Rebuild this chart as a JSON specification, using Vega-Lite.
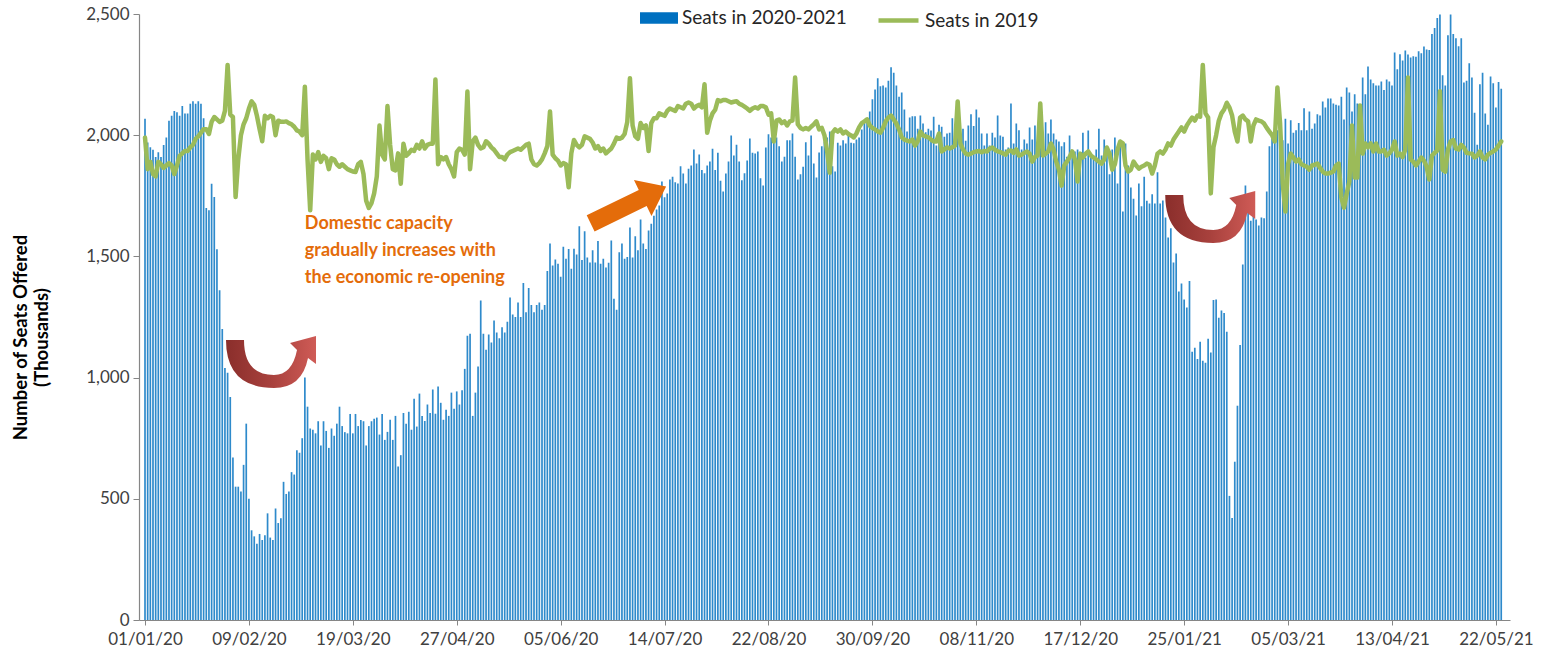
{
"$schema": "https://vega.github.io/schema/vega-lite/v6.json",
"width": 1371,
"height": 606,
"autosize": "none",
"padding": {"left": 139, "top": 14, "right": 37, "bottom": 37},
"background": "white",
"config": {"view": {"stroke": null}, "font": "Lato",
  "axis": {"grid": false, "domainColor": "#868686", "tickColor": "#868686", "labelColor": "#404040", "labelFont": "Lato", "labelFontSize": 17, "tickSize": 6, "domainWidth": 1.2, "titleFont": "Lato", "titleFontSize": 18.5, "titleFontWeight": "bold", "titleColor": "#000000", "titleLineHeight": 21},
  "axisY": {"titleX": -109, "titleY": 323, "labelPadding": 4}},
"datasets": {
"seats": [
{"date":"2020-01-01","s2021":2068,"s2019":1990},{"date":"2020-01-02","s2021":1970,"s2019":1860},{"date":"2020-01-03","s2021":1950,"s2019":1890},{"date":"2020-01-04","s2021":1940,"s2019":1840},{"date":"2020-01-05","s2021":1910,"s2019":1830},{"date":"2020-01-06","s2021":1930,"s2019":1890},{"date":"2020-01-07","s2021":1910,"s2019":1880},{"date":"2020-01-08","s2021":1960,"s2019":1865},{"date":"2020-01-09","s2021":1990,"s2019":1875},{"date":"2020-01-10","s2021":2060,"s2019":1885},{"date":"2020-01-11","s2021":2080,"s2019":1875},{"date":"2020-01-12","s2021":2100,"s2019":1840},{"date":"2020-01-13","s2021":2095,"s2019":1875},{"date":"2020-01-14","s2021":2080,"s2019":1915},{"date":"2020-01-15","s2021":2120,"s2019":1925},{"date":"2020-01-16","s2021":2090,"s2019":1935},{"date":"2020-01-17","s2021":2090,"s2019":1935},{"date":"2020-01-18","s2021":2130,"s2019":1950},{"date":"2020-01-19","s2021":2140,"s2019":1960},{"date":"2020-01-20","s2021":2130,"s2019":1985},{"date":"2020-01-21","s2021":2140,"s2019":1995},{"date":"2020-01-22","s2021":2130,"s2019":2010},{"date":"2020-01-23","s2021":2070,"s2019":2025},{"date":"2020-01-24","s2021":1700,"s2019":2025},{"date":"2020-01-25","s2021":1690,"s2019":2005},{"date":"2020-01-26","s2021":1800,"s2019":2055},{"date":"2020-01-27","s2021":1745,"s2019":2075},{"date":"2020-01-28","s2021":1530,"s2019":2065},{"date":"2020-01-29","s2021":1360,"s2019":2055},{"date":"2020-01-30","s2021":1200,"s2019":2060},{"date":"2020-01-31","s2021":1040,"s2019":2100},
{"date":"2020-02-01","s2021":1020,"s2019":2290},{"date":"2020-02-02","s2021":920,"s2019":2085},{"date":"2020-02-03","s2021":670,"s2019":2075},{"date":"2020-02-04","s2021":550,"s2019":1745},{"date":"2020-02-05","s2021":550,"s2019":1900},{"date":"2020-02-06","s2021":530,"s2019":2000},{"date":"2020-02-07","s2021":640,"s2019":2045},{"date":"2020-02-08","s2021":810,"s2019":2070},{"date":"2020-02-09","s2021":500,"s2019":2110},{"date":"2020-02-10","s2021":370,"s2019":2140},{"date":"2020-02-11","s2021":345,"s2019":2125},{"date":"2020-02-12","s2021":315,"s2019":2080},{"date":"2020-02-13","s2021":355,"s2019":2025},{"date":"2020-02-14","s2021":330,"s2019":1975},{"date":"2020-02-15","s2021":350,"s2019":2080},{"date":"2020-02-16","s2021":440,"s2019":2070},{"date":"2020-02-17","s2021":340,"s2019":2080},{"date":"2020-02-18","s2021":330,"s2019":2075},{"date":"2020-02-19","s2021":460,"s2019":2000},{"date":"2020-02-20","s2021":400,"s2019":2060},{"date":"2020-02-21","s2021":420,"s2019":2055},{"date":"2020-02-22","s2021":570,"s2019":2055},{"date":"2020-02-23","s2021":520,"s2019":2057},{"date":"2020-02-24","s2021":530,"s2019":2050},{"date":"2020-02-25","s2021":610,"s2019":2045},{"date":"2020-02-26","s2021":600,"s2019":2035},{"date":"2020-02-27","s2021":700,"s2019":2020},{"date":"2020-02-28","s2021":690,"s2019":2015},{"date":"2020-02-29","s2021":750,"s2019":2000},
{"date":"2020-03-01","s2021":1000,"s2019":2200},{"date":"2020-03-02","s2021":880,"s2019":1900},{"date":"2020-03-03","s2021":790,"s2019":1690},{"date":"2020-03-04","s2021":785,"s2019":1920},{"date":"2020-03-05","s2021":770,"s2019":1900},{"date":"2020-03-06","s2021":820,"s2019":1930},{"date":"2020-03-07","s2021":720,"s2019":1890},{"date":"2020-03-08","s2021":820,"s2019":1915},{"date":"2020-03-09","s2021":780,"s2019":1905},{"date":"2020-03-10","s2021":710,"s2019":1860},{"date":"2020-03-11","s2021":790,"s2019":1905},{"date":"2020-03-12","s2021":760,"s2019":1900},{"date":"2020-03-13","s2021":810,"s2019":1880},{"date":"2020-03-14","s2021":880,"s2019":1870},{"date":"2020-03-15","s2021":800,"s2019":1880},{"date":"2020-03-16","s2021":775,"s2019":1870},{"date":"2020-03-17","s2021":770,"s2019":1860},{"date":"2020-03-18","s2021":850,"s2019":1855},{"date":"2020-03-19","s2021":770,"s2019":1850},{"date":"2020-03-20","s2021":850,"s2019":1848},{"date":"2020-03-21","s2021":800,"s2019":1880},{"date":"2020-03-22","s2021":825,"s2019":1890},{"date":"2020-03-23","s2021":820,"s2019":1840},{"date":"2020-03-24","s2021":720,"s2019":1730},{"date":"2020-03-25","s2021":800,"s2019":1700},{"date":"2020-03-26","s2021":820,"s2019":1720},{"date":"2020-03-27","s2021":830,"s2019":1760},{"date":"2020-03-28","s2021":835,"s2019":1830},{"date":"2020-03-29","s2021":765,"s2019":2040},{"date":"2020-03-30","s2021":850,"s2019":1920},{"date":"2020-03-31","s2021":743,"s2019":1900},
{"date":"2020-04-01","s2021":776,"s2019":2120},{"date":"2020-04-02","s2021":826,"s2019":1960},{"date":"2020-04-03","s2021":743,"s2019":1860},{"date":"2020-04-04","s2021":842,"s2019":1855},{"date":"2020-04-05","s2021":633,"s2019":1925},{"date":"2020-04-06","s2021":680,"s2019":1800},{"date":"2020-04-07","s2021":854,"s2019":1965},{"date":"2020-04-08","s2021":810,"s2019":1915},{"date":"2020-04-09","s2021":859,"s2019":1925},{"date":"2020-04-10","s2021":785,"s2019":1940},{"date":"2020-04-11","s2021":913,"s2019":1935},{"date":"2020-04-12","s2021":798,"s2019":1960},{"date":"2020-04-13","s2021":934,"s2019":1945},{"date":"2020-04-14","s2021":842,"s2019":1975},{"date":"2020-04-15","s2021":821,"s2019":1945},{"date":"2020-04-16","s2021":889,"s2019":1960},{"date":"2020-04-17","s2021":854,"s2019":1965},{"date":"2020-04-18","s2021":951,"s2019":1965},{"date":"2020-04-19","s2021":851,"s2019":2230},{"date":"2020-04-20","s2021":963,"s2019":1880},{"date":"2020-04-21","s2021":896,"s2019":1910},{"date":"2020-04-22","s2021":826,"s2019":1900},{"date":"2020-04-23","s2021":867,"s2019":1910},{"date":"2020-04-24","s2021":842,"s2019":1880},{"date":"2020-04-25","s2021":938,"s2019":1860},{"date":"2020-04-26","s2021":872,"s2019":1830},{"date":"2020-04-27","s2021":943,"s2019":1930},{"date":"2020-04-28","s2021":889,"s2019":1945},{"date":"2020-04-29","s2021":948,"s2019":1940},{"date":"2020-04-30","s2021":1036,"s2019":1920},
{"date":"2020-05-01","s2021":1173,"s2019":2180},{"date":"2020-05-02","s2021":1181,"s2019":1860},{"date":"2020-05-03","s2021":842,"s2019":1975},{"date":"2020-05-04","s2021":938,"s2019":1990},{"date":"2020-05-05","s2021":1046,"s2019":1960},{"date":"2020-05-06","s2021":1318,"s2019":1945},{"date":"2020-05-07","s2021":1181,"s2019":1950},{"date":"2020-05-08","s2021":1115,"s2019":1975},{"date":"2020-05-09","s2021":1178,"s2019":1965},{"date":"2020-05-10","s2021":1145,"s2019":1950},{"date":"2020-05-11","s2021":1236,"s2019":1940},{"date":"2020-05-12","s2021":1186,"s2019":1925},{"date":"2020-05-13","s2021":1162,"s2019":1910},{"date":"2020-05-14","s2021":1208,"s2019":1910},{"date":"2020-05-15","s2021":1186,"s2019":1900},{"date":"2020-05-16","s2021":1230,"s2019":1920},{"date":"2020-05-17","s2021":1330,"s2019":1930},{"date":"2020-05-18","s2021":1260,"s2019":1935},{"date":"2020-05-19","s2021":1250,"s2019":1940},{"date":"2020-05-20","s2021":1310,"s2019":1945},{"date":"2020-05-21","s2021":1250,"s2019":1940},{"date":"2020-05-22","s2021":1390,"s2019":1950},{"date":"2020-05-23","s2021":1270,"s2019":1960},{"date":"2020-05-24","s2021":1370,"s2019":1965},{"date":"2020-05-25","s2021":1300,"s2019":1900},{"date":"2020-05-26","s2021":1270,"s2019":1880},{"date":"2020-05-27","s2021":1300,"s2019":1875},{"date":"2020-05-28","s2021":1310,"s2019":1885},{"date":"2020-05-29","s2021":1280,"s2019":1900},{"date":"2020-05-30","s2021":1300,"s2019":1925},{"date":"2020-05-31","s2021":1440,"s2019":1955},
{"date":"2020-06-01","s2021":1553,"s2019":2098},{"date":"2020-06-02","s2021":1462,"s2019":1920},{"date":"2020-06-03","s2021":1487,"s2019":1905},{"date":"2020-06-04","s2021":1470,"s2019":1895},{"date":"2020-06-05","s2021":1416,"s2019":1875},{"date":"2020-06-06","s2021":1540,"s2019":1885},{"date":"2020-06-07","s2021":1490,"s2019":1880},{"date":"2020-06-08","s2021":1531,"s2019":1785},{"date":"2020-06-09","s2021":1449,"s2019":1925},{"date":"2020-06-10","s2021":1532,"s2019":1980},{"date":"2020-06-11","s2021":1508,"s2019":1960},{"date":"2020-06-12","s2021":1624,"s2019":1950},{"date":"2020-06-13","s2021":1485,"s2019":1960},{"date":"2020-06-14","s2021":1604,"s2019":1995},{"date":"2020-06-15","s2021":1495,"s2019":1990},{"date":"2020-06-16","s2021":1475,"s2019":1985},{"date":"2020-06-17","s2021":1525,"s2019":1970},{"date":"2020-06-18","s2021":1475,"s2019":1945},{"date":"2020-06-19","s2021":1564,"s2019":1955},{"date":"2020-06-20","s2021":1470,"s2019":1935},{"date":"2020-06-21","s2021":1490,"s2019":1945},{"date":"2020-06-22","s2021":1454,"s2019":1925},{"date":"2020-06-23","s2021":1474,"s2019":1935},{"date":"2020-06-24","s2021":1566,"s2019":1945},{"date":"2020-06-25","s2021":1325,"s2019":1965},{"date":"2020-06-26","s2021":1280,"s2019":1990},{"date":"2020-06-27","s2021":1517,"s2019":1985},{"date":"2020-06-28","s2021":1553,"s2019":1990},{"date":"2020-06-29","s2021":1490,"s2019":2005},{"date":"2020-06-30","s2021":1498,"s2019":2055},
{"date":"2020-07-01","s2021":1619,"s2019":2235},{"date":"2020-07-02","s2021":1495,"s2019":2040},{"date":"2020-07-03","s2021":1583,"s2019":1995},{"date":"2020-07-04","s2021":1525,"s2019":1985},{"date":"2020-07-05","s2021":1652,"s2019":2050},{"date":"2020-07-06","s2021":1553,"s2019":2030},{"date":"2020-07-07","s2021":1531,"s2019":2040},{"date":"2020-07-08","s2021":1607,"s2019":1935},{"date":"2020-07-09","s2021":1635,"s2019":2050},{"date":"2020-07-10","s2021":1668,"s2019":2070},{"date":"2020-07-11","s2021":1693,"s2019":2070},{"date":"2020-07-12","s2021":1710,"s2019":2090},{"date":"2020-07-13","s2021":1809,"s2019":2085},{"date":"2020-07-14","s2021":1744,"s2019":2080},{"date":"2020-07-15","s2021":1759,"s2019":2100},{"date":"2020-07-16","s2021":1817,"s2019":2110},{"date":"2020-07-17","s2021":1829,"s2019":2105},{"date":"2020-07-18","s2021":1806,"s2019":2100},{"date":"2020-07-19","s2021":1801,"s2019":2120},{"date":"2020-07-20","s2021":1872,"s2019":2115},{"date":"2020-07-21","s2021":1842,"s2019":2110},{"date":"2020-07-22","s2021":1801,"s2019":2130},{"date":"2020-07-23","s2021":1862,"s2019":2135},{"date":"2020-07-24","s2021":1875,"s2019":2130},{"date":"2020-07-25","s2021":1941,"s2019":2110},{"date":"2020-07-26","s2021":1883,"s2019":2120},{"date":"2020-07-27","s2021":1920,"s2019":2125},{"date":"2020-07-28","s2021":1856,"s2019":2115},{"date":"2020-07-29","s2021":1843,"s2019":2210},{"date":"2020-07-30","s2021":1875,"s2019":2010},{"date":"2020-07-31","s2021":1892,"s2019":2060},
{"date":"2020-08-01","s2021":1944,"s2019":2090},{"date":"2020-08-02","s2021":1856,"s2019":2105},{"date":"2020-08-03","s2021":1928,"s2019":2145},{"date":"2020-08-04","s2021":1812,"s2019":2140},{"date":"2020-08-05","s2021":1768,"s2019":2145},{"date":"2020-08-06","s2021":1842,"s2019":2145},{"date":"2020-08-07","s2021":1892,"s2019":2140},{"date":"2020-08-08","s2021":1999,"s2019":2135},{"date":"2020-08-09","s2021":1916,"s2019":2138},{"date":"2020-08-10","s2021":1961,"s2019":2140},{"date":"2020-08-11","s2021":1892,"s2019":2130},{"date":"2020-08-12","s2021":1814,"s2019":2125},{"date":"2020-08-13","s2021":1843,"s2019":2118},{"date":"2020-08-14","s2021":1896,"s2019":2110},{"date":"2020-08-15","s2021":1986,"s2019":2100},{"date":"2020-08-16","s2021":1928,"s2019":2110},{"date":"2020-08-17","s2021":1924,"s2019":2115},{"date":"2020-08-18","s2021":1933,"s2019":2110},{"date":"2020-08-19","s2021":1822,"s2019":2120},{"date":"2020-08-20","s2021":1792,"s2019":2120},{"date":"2020-08-21","s2021":1949,"s2019":2115},{"date":"2020-08-22","s2021":2004,"s2019":2085},{"date":"2020-08-23","s2021":1991,"s2019":2090},{"date":"2020-08-24","s2021":2010,"s2019":1974},{"date":"2020-08-25","s2021":1990,"s2019":2060},{"date":"2020-08-26","s2021":1954,"s2019":2065},{"date":"2020-08-27","s2021":1892,"s2019":2050},{"date":"2020-08-28","s2021":1911,"s2019":2057},{"date":"2020-08-29","s2021":1979,"s2019":2040},{"date":"2020-08-30","s2021":1979,"s2019":2057},{"date":"2020-08-31","s2021":2007,"s2019":2060},
{"date":"2020-09-01","s2021":1911,"s2019":2238},{"date":"2020-09-02","s2021":1817,"s2019":2045},{"date":"2020-09-03","s2021":1839,"s2019":2030},{"date":"2020-09-04","s2021":1870,"s2019":2024},{"date":"2020-09-05","s2021":1971,"s2019":2030},{"date":"2020-09-06","s2021":1916,"s2019":2024},{"date":"2020-09-07","s2021":1999,"s2019":2035},{"date":"2020-09-08","s2021":1883,"s2019":2045},{"date":"2020-09-09","s2021":1825,"s2019":2057},{"date":"2020-09-10","s2021":1929,"s2019":2024},{"date":"2020-09-11","s2021":1954,"s2019":2030},{"date":"2020-09-12","s2021":1974,"s2019":2000},{"date":"2020-09-13","s2021":1991,"s2019":1935},{"date":"2020-09-14","s2021":2015,"s2019":1845},{"date":"2020-09-15","s2021":1872,"s2019":2010},{"date":"2020-09-16","s2021":1850,"s2019":2024},{"date":"2020-09-17","s2021":1969,"s2019":2015},{"date":"2020-09-18","s2021":1957,"s2019":2024},{"date":"2020-09-19","s2021":1979,"s2019":2007},{"date":"2020-09-20","s2021":1966,"s2019":2015},{"date":"2020-09-21","s2021":2007,"s2019":2005},{"date":"2020-09-22","s2021":1969,"s2019":1999},{"date":"2020-09-23","s2021":1967,"s2019":1991},{"date":"2020-09-24","s2021":1982,"s2019":2007},{"date":"2020-09-25","s2021":1991,"s2019":2032},{"date":"2020-09-26","s2021":2023,"s2019":2050},{"date":"2020-09-27","s2021":2057,"s2019":2057},{"date":"2020-09-28","s2021":2070,"s2019":2065},{"date":"2020-09-29","s2021":2098,"s2019":2040},{"date":"2020-09-30","s2021":2148,"s2019":2030},
{"date":"2020-10-01","s2021":2189,"s2019":2024},{"date":"2020-10-02","s2021":2235,"s2019":2015},{"date":"2020-10-03","s2021":2202,"s2019":2010},{"date":"2020-10-04","s2021":2205,"s2019":2030},{"date":"2020-10-05","s2021":2197,"s2019":2057},{"date":"2020-10-06","s2021":2225,"s2019":2073},{"date":"2020-10-07","s2021":2280,"s2019":2081},{"date":"2020-10-08","s2021":2258,"s2019":2065},{"date":"2020-10-09","s2021":2205,"s2019":2048},{"date":"2020-10-10","s2021":2159,"s2019":2024},{"date":"2020-10-11","s2021":2176,"s2019":1991},{"date":"2020-10-12","s2021":2106,"s2019":1982},{"date":"2020-10-13","s2021":2015,"s2019":1978},{"date":"2020-10-14","s2021":2073,"s2019":1974},{"date":"2020-10-15","s2021":2078,"s2019":1982},{"date":"2020-10-16","s2021":2078,"s2019":1957},{"date":"2020-10-17","s2021":2027,"s2019":1975},{"date":"2020-10-18","s2021":2081,"s2019":2015},{"date":"2020-10-19","s2021":2048,"s2019":1999},{"date":"2020-10-20","s2021":2012,"s2019":1995},{"date":"2020-10-21","s2021":2027,"s2019":1991},{"date":"2020-10-22","s2021":2019,"s2019":1982},{"date":"2020-10-23","s2021":2076,"s2019":1974},{"date":"2020-10-24","s2021":1957,"s2019":1974},{"date":"2020-10-25","s2021":2043,"s2019":2007},{"date":"2020-10-26","s2021":2035,"s2019":1933},{"date":"2020-10-27","s2021":1994,"s2019":1941},{"date":"2020-10-28","s2021":2007,"s2019":1950},{"date":"2020-10-29","s2021":2010,"s2019":1945},{"date":"2020-10-30","s2021":2070,"s2019":1950},{"date":"2020-10-31","s2021":1966,"s2019":1957},
{"date":"2020-11-01","s2021":2060,"s2019":2139},{"date":"2020-11-02","s2021":1999,"s2019":1966},{"date":"2020-11-03","s2021":2027,"s2019":1941},{"date":"2020-11-04","s2021":1977,"s2019":1924},{"date":"2020-11-05","s2021":2040,"s2019":1920},{"date":"2020-11-06","s2021":2086,"s2019":1924},{"date":"2020-11-07","s2021":2038,"s2019":1930},{"date":"2020-11-08","s2021":2106,"s2019":1933},{"date":"2020-11-09","s2021":2073,"s2019":1935},{"date":"2020-11-10","s2021":2007,"s2019":1930},{"date":"2020-11-11","s2021":1957,"s2019":1935},{"date":"2020-11-12","s2021":2007,"s2019":1933},{"date":"2020-11-13","s2021":1957,"s2019":1945},{"date":"2020-11-14","s2021":2010,"s2019":1949},{"date":"2020-11-15","s2021":1991,"s2019":1940},{"date":"2020-11-16","s2021":2081,"s2019":1933},{"date":"2020-11-17","s2021":1999,"s2019":1930},{"date":"2020-11-18","s2021":1994,"s2019":1925},{"date":"2020-11-19","s2021":1941,"s2019":1920},{"date":"2020-11-20","s2021":1949,"s2019":1935},{"date":"2020-11-21","s2021":2131,"s2019":1937},{"date":"2020-11-22","s2021":1966,"s2019":1927},{"date":"2020-11-23","s2021":2048,"s2019":1941},{"date":"2020-11-24","s2021":2020,"s2019":1916},{"date":"2020-11-25","s2021":1941,"s2019":1920},{"date":"2020-11-26","s2021":1982,"s2019":1927},{"date":"2020-11-27","s2021":1966,"s2019":1933},{"date":"2020-11-28","s2021":2032,"s2019":1924},{"date":"2020-11-29","s2021":1982,"s2019":1891},{"date":"2020-11-30","s2021":2040,"s2019":1910},
{"date":"2020-12-01","s2021":1941,"s2019":1916},{"date":"2020-12-02","s2021":1982,"s2019":2131},{"date":"2020-12-03","s2021":1999,"s2019":1916},{"date":"2020-12-04","s2021":2053,"s2019":1924},{"date":"2020-12-05","s2021":2007,"s2019":1933},{"date":"2020-12-06","s2021":2065,"s2019":1966},{"date":"2020-12-07","s2021":2007,"s2019":1941},{"date":"2020-12-08","s2021":1982,"s2019":1891},{"date":"2020-12-09","s2021":1974,"s2019":1858},{"date":"2020-12-10","s2021":1954,"s2019":1792},{"date":"2020-12-11","s2021":1971,"s2019":1875},{"date":"2020-12-12","s2021":1911,"s2019":1891},{"date":"2020-12-13","s2021":1999,"s2019":1910},{"date":"2020-12-14","s2021":1908,"s2019":1933},{"date":"2020-12-15","s2021":1933,"s2019":1900},{"date":"2020-12-16","s2021":1941,"s2019":1809},{"date":"2020-12-17","s2021":1892,"s2019":1924},{"date":"2020-12-18","s2021":2010,"s2019":1908},{"date":"2020-12-19","s2021":1908,"s2019":1924},{"date":"2020-12-20","s2021":2019,"s2019":1933},{"date":"2020-12-21","s2021":1924,"s2019":1916},{"date":"2020-12-22","s2021":1905,"s2019":1908},{"date":"2020-12-23","s2021":1941,"s2019":1900},{"date":"2020-12-24","s2021":2027,"s2019":1891},{"date":"2020-12-25","s2021":1916,"s2019":1883},{"date":"2020-12-26","s2021":1982,"s2019":1900},{"date":"2020-12-27","s2021":1924,"s2019":1949},{"date":"2020-12-28","s2021":1839,"s2019":1924},{"date":"2020-12-29","s2021":1941,"s2019":1858},{"date":"2020-12-30","s2021":1991,"s2019":1880},{"date":"2020-12-31","s2021":1801,"s2019":1940},
{"date":"2021-01-01","s2021":1957,"s2019":1974},{"date":"2021-01-02","s2021":1685,"s2019":1966},{"date":"2021-01-03","s2021":1966,"s2019":1875},{"date":"2021-01-04","s2021":1875,"s2019":1850},{"date":"2021-01-05","s2021":1784,"s2019":1858},{"date":"2021-01-06","s2021":1738,"s2019":1891},{"date":"2021-01-07","s2021":1669,"s2019":1875},{"date":"2021-01-08","s2021":1801,"s2019":1862},{"date":"2021-01-09","s2021":1707,"s2019":1870},{"date":"2021-01-10","s2021":1829,"s2019":1875},{"date":"2021-01-11","s2021":1730,"s2019":1883},{"date":"2021-01-12","s2021":1718,"s2019":1878},{"date":"2021-01-13","s2021":1756,"s2019":1842},{"date":"2021-01-14","s2021":1718,"s2019":1875},{"date":"2021-01-15","s2021":1847,"s2019":1924},{"date":"2021-01-16","s2021":1718,"s2019":1933},{"date":"2021-01-17","s2021":1731,"s2019":1924},{"date":"2021-01-18","s2021":1660,"s2019":1941},{"date":"2021-01-19","s2021":1578,"s2019":1966},{"date":"2021-01-20","s2021":1616,"s2019":1957},{"date":"2021-01-21","s2021":1475,"s2019":1982},{"date":"2021-01-22","s2021":1512,"s2019":1999},{"date":"2021-01-23","s2021":1355,"s2019":2015},{"date":"2021-01-24","s2021":1388,"s2019":2032},{"date":"2021-01-25","s2021":1322,"s2019":2015},{"date":"2021-01-26","s2021":1289,"s2019":2040},{"date":"2021-01-27","s2021":1399,"s2019":2057},{"date":"2021-01-28","s2021":1107,"s2019":2073},{"date":"2021-01-29","s2021":1123,"s2019":2060},{"date":"2021-01-30","s2021":1077,"s2019":2081},{"date":"2021-01-31","s2021":1148,"s2019":2076},
{"date":"2021-02-01","s2021":1070,"s2019":2290},{"date":"2021-02-02","s2021":1061,"s2019":2090},{"date":"2021-02-03","s2021":1160,"s2019":2073},{"date":"2021-02-04","s2021":1104,"s2019":1760},{"date":"2021-02-05","s2021":1320,"s2019":1950},{"date":"2021-02-06","s2021":1322,"s2019":2000},{"date":"2021-02-07","s2021":1247,"s2019":2060},{"date":"2021-02-08","s2021":1277,"s2019":2090},{"date":"2021-02-09","s2021":1267,"s2019":2106},{"date":"2021-02-10","s2021":1189,"s2019":2134},{"date":"2021-02-11","s2021":512,"s2019":2114},{"date":"2021-02-12","s2021":421,"s2019":2081},{"date":"2021-02-13","s2021":653,"s2019":2015},{"date":"2021-02-14","s2021":884,"s2019":1974},{"date":"2021-02-15","s2021":1135,"s2019":2073},{"date":"2021-02-16","s2021":1467,"s2019":2081},{"date":"2021-02-17","s2021":1792,"s2019":2065},{"date":"2021-02-18","s2021":1693,"s2019":2057},{"date":"2021-02-19","s2021":1647,"s2019":1974},{"date":"2021-02-20","s2021":1718,"s2019":2040},{"date":"2021-02-21","s2021":1652,"s2019":2065},{"date":"2021-02-22","s2021":1627,"s2019":2060},{"date":"2021-02-23","s2021":1660,"s2019":2057},{"date":"2021-02-24","s2021":1657,"s2019":2048},{"date":"2021-02-25","s2021":1768,"s2019":2030},{"date":"2021-02-26","s2021":1954,"s2019":2015},{"date":"2021-02-27","s2021":1987,"s2019":2000},{"date":"2021-02-28","s2021":2000,"s2019":1974},
{"date":"2021-03-01","s2021":2020,"s2019":2197},{"date":"2021-03-02","s2021":2004,"s2019":2050},{"date":"2021-03-03","s2021":1979,"s2019":1800},{"date":"2021-03-04","s2021":2068,"s2019":1685},{"date":"2021-03-05","s2021":1966,"s2019":1880},{"date":"2021-03-06","s2021":2062,"s2019":1924},{"date":"2021-03-07","s2021":2010,"s2019":1908},{"date":"2021-03-08","s2021":2020,"s2019":1891},{"date":"2021-03-09","s2021":2050,"s2019":1900},{"date":"2021-03-10","s2021":2020,"s2019":1880},{"date":"2021-03-11","s2021":2111,"s2019":1875},{"date":"2021-03-12","s2021":2020,"s2019":1870},{"date":"2021-03-13","s2021":2098,"s2019":1858},{"date":"2021-03-14","s2021":2027,"s2019":1875},{"date":"2021-03-15","s2021":2048,"s2019":1878},{"date":"2021-03-16","s2021":2086,"s2019":1883},{"date":"2021-03-17","s2021":2081,"s2019":1866},{"date":"2021-03-18","s2021":2139,"s2019":1850},{"date":"2021-03-19","s2021":2114,"s2019":1842},{"date":"2021-03-20","s2021":2151,"s2019":1842},{"date":"2021-03-21","s2021":2151,"s2019":1845},{"date":"2021-03-22","s2021":2131,"s2019":1850},{"date":"2021-03-23","s2021":2126,"s2019":1875},{"date":"2021-03-24","s2021":2123,"s2019":1883},{"date":"2021-03-25","s2021":2159,"s2019":1743},{"date":"2021-03-26","s2021":2065,"s2019":1701},{"date":"2021-03-27","s2021":2197,"s2019":1759},{"date":"2021-03-28","s2021":2176,"s2019":1809},{"date":"2021-03-29","s2021":2098,"s2019":2040},{"date":"2021-03-30","s2021":2169,"s2019":1825},{"date":"2021-03-31","s2021":2131,"s2019":1825},
{"date":"2021-04-01","s2021":2007,"s2019":2123},{"date":"2021-04-02","s2021":2238,"s2019":1924},{"date":"2021-04-03","s2021":2169,"s2019":1966},{"date":"2021-04-04","s2021":2283,"s2019":1950},{"date":"2021-04-05","s2021":2230,"s2019":1966},{"date":"2021-04-06","s2021":2214,"s2019":1933},{"date":"2021-04-07","s2021":2205,"s2019":1966},{"date":"2021-04-08","s2021":2205,"s2019":1933},{"date":"2021-04-09","s2021":2222,"s2019":1933},{"date":"2021-04-10","s2021":2186,"s2019":1940},{"date":"2021-04-11","s2021":2230,"s2019":1916},{"date":"2021-04-12","s2021":2222,"s2019":1925},{"date":"2021-04-13","s2021":2205,"s2019":1940},{"date":"2021-04-14","s2021":2341,"s2019":1974},{"date":"2021-04-15","s2021":2272,"s2019":1916},{"date":"2021-04-16","s2021":2334,"s2019":1924},{"date":"2021-04-17","s2021":2308,"s2019":1910},{"date":"2021-04-18","s2021":2349,"s2019":1941},{"date":"2021-04-19","s2021":2333,"s2019":2238},{"date":"2021-04-20","s2021":2321,"s2019":1900},{"date":"2021-04-21","s2021":2326,"s2019":1891},{"date":"2021-04-22","s2021":2324,"s2019":1875},{"date":"2021-04-23","s2021":2346,"s2019":1891},{"date":"2021-04-24","s2021":2338,"s2019":1908},{"date":"2021-04-25","s2021":2366,"s2019":1895},{"date":"2021-04-26","s2021":2354,"s2019":1870},{"date":"2021-04-27","s2021":2351,"s2019":1817},{"date":"2021-04-28","s2021":2417,"s2019":1916},{"date":"2021-04-29","s2021":2442,"s2019":1927},{"date":"2021-04-30","s2021":2483,"s2019":1937},
{"date":"2021-05-01","s2021":2498,"s2019":2181},{"date":"2021-05-02","s2021":2247,"s2019":1858},{"date":"2021-05-03","s2021":2205,"s2019":1850},{"date":"2021-05-04","s2021":2412,"s2019":1941},{"date":"2021-05-05","s2021":2498,"s2019":1974},{"date":"2021-05-06","s2021":2417,"s2019":1980},{"date":"2021-05-07","s2021":2400,"s2019":1945},{"date":"2021-05-08","s2021":2367,"s2019":1941},{"date":"2021-05-09","s2021":2400,"s2019":1960},{"date":"2021-05-10","s2021":2217,"s2019":1949},{"date":"2021-05-11","s2021":2225,"s2019":1927},{"date":"2021-05-12","s2021":2297,"s2019":1925},{"date":"2021-05-13","s2021":2238,"s2019":1924},{"date":"2021-05-14","s2021":2093,"s2019":1908},{"date":"2021-05-15","s2021":1961,"s2019":1916},{"date":"2021-05-16","s2021":2210,"s2019":1933},{"date":"2021-05-17","s2021":2258,"s2019":1908},{"date":"2021-05-18","s2021":2090,"s2019":1900},{"date":"2021-05-19","s2021":2043,"s2019":1920},{"date":"2021-05-20","s2021":2242,"s2019":1927},{"date":"2021-05-21","s2021":2214,"s2019":1933},{"date":"2021-05-22","s2021":2114,"s2019":1941},{"date":"2021-05-23","s2021":2219,"s2019":1957},{"date":"2021-05-24","s2021":2192,"s2019":1974}
],
"note": [{"date": "2020-03-01T00:00:00Z", "value": 1670}],
"bigarrow": [{"date": "2020-06-30T10:00:00Z", "value": 1712}],
"uarrows": [{"date": "2020-02-18T10:00:00Z", "value": 1114}, {"date": "2021-02-04T22:00:00Z", "value": 1712}]
},
"layer": [
{
 "data": {"name": "seats"},
 "mark": {"type": "bar", "width": 1.7, "fillOpacity": 0.82},
 "encoding": {
  "x": {"field": "date", "type": "temporal", "title": null,
   "scale": {"type": "utc", "domain": [{"year": 2019, "month": 12, "date": 31, "hours": 15, "utc": true}, {"year": 2021, "month": 5, "date": 25, "hours": 10, "utc": true}]},
   "axis": {"format": "%d/%m/%y", "labelFlush": false, "labelOverlap": false, "labelPadding": 6, "tickSize": 5,
    "values": [{"year": 2020, "month": 1, "date": 1, "utc": true}, {"year": 2020, "month": 2, "date": 9, "utc": true}, {"year": 2020, "month": 3, "date": 19, "utc": true}, {"year": 2020, "month": 4, "date": 27, "utc": true}, {"year": 2020, "month": 6, "date": 5, "utc": true}, {"year": 2020, "month": 7, "date": 14, "utc": true}, {"year": 2020, "month": 8, "date": 22, "utc": true}, {"year": 2020, "month": 9, "date": 30, "utc": true}, {"year": 2020, "month": 11, "date": 8, "utc": true}, {"year": 2020, "month": 12, "date": 17, "utc": true}, {"year": 2021, "month": 1, "date": 25, "utc": true}, {"year": 2021, "month": 3, "date": 5, "utc": true}, {"year": 2021, "month": 4, "date": 13, "utc": true}, {"year": 2021, "month": 5, "date": 22, "utc": true}]}},
  "y": {"field": "s2021", "type": "quantitative",
   "scale": {"domain": [0, 2500], "nice": false},
   "title": ["Number of Seats Offered", "(Thousands)"],
   "axis": {"values": [0, 500, 1000, 1500, 2000, 2500], "labelExpr": "format(datum.value, ',')"}},
  "color": {"datum": "Seats in 2020-2021", "scale": {"range": ["#0070C0"]},
   "legend": {"orient": "none", "legendX": 501, "legendY": -15, "title": null, "padding": 0, "symbolType": "M-1,-0.3H1V0.3H-1Z", "symbolSize": 1444, "symbolStrokeWidth": 0, "symbolOpacity": 1, "labelFontSize": 19, "labelFont": "Lato", "labelColor": "#262626", "labelOffset": 4, "labelLimit": 400}}
 }
},
{
 "data": {"name": "seats"},
 "mark": {"type": "line", "strokeWidth": 4.5, "strokeJoin": "round", "strokeCap": "round"},
 "encoding": {
  "x": {"field": "date", "type": "temporal"},
  "y": {"field": "s2019", "type": "quantitative"},
  "stroke": {"datum": "Seats in 2019", "scale": {"range": ["#9BBB59"]},
   "legend": {"orient": "none", "legendX": 737, "legendY": -16, "title": null, "padding": 0, "symbolType": "stroke", "symbolSize": 1600, "symbolStrokeWidth": 4.5, "labelFontSize": 19, "labelFont": "Lato", "labelColor": "#262626", "labelOffset": 4, "labelLimit": 400}}
 }
},
{
 "data": {"name": "note"},
 "mark": {"type": "text", "text": ["Domestic capacity", "gradually increases with", "the economic re-opening"], "align": "left", "baseline": "top", "font": "Lato", "fontSize": 18, "fontWeight": "bold", "color": "#E46C0A", "lineHeight": 27},
 "encoding": {
  "x": {"field": "date", "type": "temporal"},
  "y": {"field": "value", "type": "quantitative"}
 }
},
{
 "data": {"name": "bigarrow"},
 "mark": {"type": "point", "shape": "M-1,-0.214L0.38,-0.214L0.38,-0.476L1,0L0.38,0.476L0.38,0.214L-1,0.214Z", "size": 7056, "angle": -26, "filled": true, "color": "#E46C0A", "opacity": 1, "strokeWidth": 0},
 "encoding": {
  "x": {"field": "date", "type": "temporal"},
  "y": {"field": "value", "type": "quantitative"}
 }
},
{
 "data": {"name": "uarrows"},
 "mark": {"type": "point", "shape": "M-0.96,-0.2Q-0.96,0.76 0,0.76Q0.56,0.76 0.68,0.16L0.84,0.28L0.84,-0.28L0.32,-0.14L0.46,0Q0.36,0.5 0,0.5Q-0.6,0.5 -0.6,-0.2Z", "size": 10000, "filled": true, "opacity": 1, "strokeWidth": 0,
  "fill": {"gradient": "linear", "x1": 0, "y1": 0, "x2": 1, "y2": 0, "stops": [{"offset": 0, "color": "#8A2E2B"}, {"offset": 0.5, "color": "#A8413D"}, {"offset": 1, "color": "#CF5B56"}]}},
 "encoding": {
  "x": {"field": "date", "type": "temporal"},
  "y": {"field": "value", "type": "quantitative"}
 }
}
]
}
